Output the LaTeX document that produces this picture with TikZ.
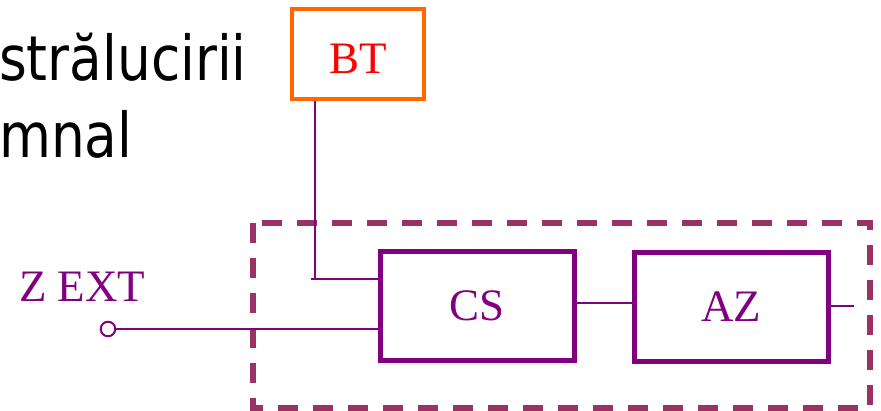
\documentclass[tikz,border=0pt]{standalone}
\usepackage{fontspec}
\setmainfont{Liberation Serif}
\newfontfamily\headfont{DejaVu Sans}
\definecolor{wirepurple}{HTML}{800080}
\definecolor{framemauve}{HTML}{993366}
\definecolor{btorange}{HTML}{FF6600}
\definecolor{btred}{HTML}{FF0000}
\tikzset{
  wire/.style={draw=wirepurple, line width=2pt},
  blockbox/.style={draw=wirepurple, line width=5pt, fill=white,
    minimum width=194pt, minimum height=109pt, inner sep=0pt,
    font=\fontsize{45}{50}\selectfont, text=wirepurple},
  btbox/.style={draw=btorange, line width=4.5pt,
    minimum width=132pt, minimum height=90pt, inner sep=0pt,
    font=\fontsize{45}{50}\selectfont, text=btred,
    text height=40pt, text depth=0pt},
  frame/.style={draw=framemauve, line width=6pt, dash pattern=on 20pt off 15pt},
  headline/.style={font=\headfont\fontsize{62}{70}\selectfont, text=black,
    inner sep=0pt, anchor=base west, xscale=0.86},
  portlabel/.style={font=\fontsize{45}{50}\selectfont, text=wirepurple,
    inner sep=0pt, anchor=base west},
  terminal/.style={circle, draw=wirepurple, line width=2pt, fill=white,
    minimum size=14.5pt, inner sep=0pt}
}
\begin{document}
\begin{tikzpicture}[x=1pt, y=-1pt]
  \useasboundingbox (0,0) rectangle (881,411);

  % heading fragments on the left
  \node[headline] (head1) at (-1,81) {strălucirii};
  \node[headline] (head2) at (-1,158) {mnal};

  % dashed enclosure around the processing chain
  \draw[frame] (253,223) rectangle (870,408);

  % blocks
  \node[btbox] (bt) at (358,54) {BT};
  \node[blockbox] (cs) at (477,306) {CS};
  \node[blockbox] (az) at (731,307) {AZ};

  % external input terminal and its label
  \node[portlabel] (zlabel) at (19,302) {Z EXT};
  \node[terminal] (zext) at (108,329) {};

  % helper points for the wiring
  \coordinate (bend) at (315,279);
  \coordinate (stub) at (311,279);
  \coordinate (out) at (854,306);

  % connectors
  \draw[wire] (bt.south -| bend) -- (bend);
  \draw[wire] (stub) -- (stub -| cs.west);
  \draw[wire] (zext.east) -- (zext -| cs.west);
  \draw[wire] ([yshift=3pt]cs.east) -- ([yshift=3pt]cs.east -| az.west);
  \draw[wire] (az.east |- out) -- (out);

  % redraw block borders above the wire ends
  \node[blockbox, fill=none] at (cs) {};
  \node[blockbox, fill=none] at (az) {};
\end{tikzpicture}
\end{document}
